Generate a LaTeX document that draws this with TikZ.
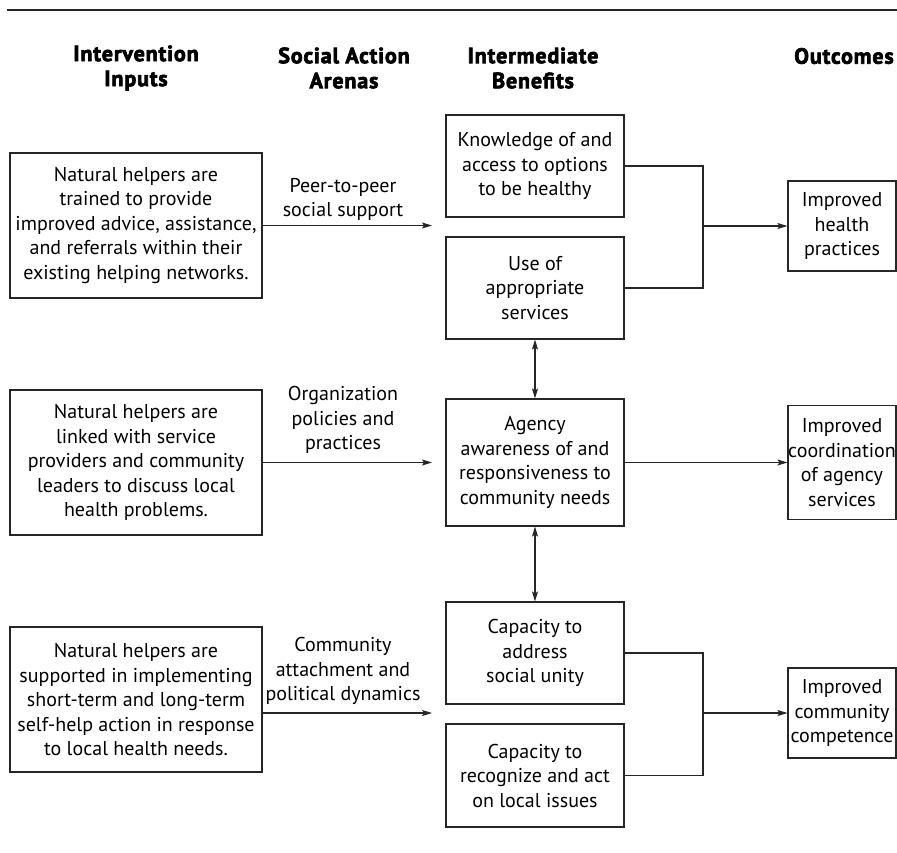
\documentclass[tikz,border=0pt]{standalone}
\usepackage{fontspec}
\setmainfont{PT Sans}
\newfontfamily\headfont{PT Sans}[UprightFont=* Bold,FakeBold=3,LetterSpace=4]
\usetikzlibrary{arrows.meta}
\begin{document}
\begin{tikzpicture}[x=1pt,y=-1pt,
  ink/.style={draw=black!85,line width=1.1pt},
  box/.style={ink,rectangle,inner sep=0pt,align=center,
    font=\fontsize{20}{24.5}\selectfont},
  head/.style={align=center,font=\headfont\fontsize{22}{25}\selectfont},
  lbl/.style={align=center,font=\fontsize{20}{24.5}\selectfont},
  arr/.style={ink,-{Stealth[length=10pt,width=6pt,inset=2pt]}},
  darr/.style={ink,{Stealth[length=10pt,width=6pt,inset=2pt]}-{Stealth[length=10pt,width=6pt,inset=2pt]}}]
\useasboundingbox (0,0) rectangle (897,852);
\clip (0,0) rectangle (897,852);

% top rule
\coordinate (rl) at (7,10);
\coordinate (rr) at (900,10);
\draw[ink] (rl) -- (rr);

% column headings
\node[head] (h1) at (136,68) {Intervention\\Inputs};
\node[head] (h2) at (344,68) {Social Action\\Arenas};
\node[head] (h3) at (533,68) {Intermediate\\Benefits};
\node[head] (h4) at (844,56) {Outcomes};

% intervention inputs
\node[box,minimum width=252pt,minimum height=145pt] (in1) at (136,225.5)
  {Natural helpers are\\trained to provide\\improved advice, assistance,\\and referrals within their\\existing helping networks.};
\node[box,minimum width=252pt,minimum height=145pt] (in2) at (136,462.5)
  {Natural helpers are\\linked with service\\providers and community\\leaders to discuss local\\health problems.};
\node[box,minimum width=252pt,minimum height=145pt] (in3) at (136,699.5)
  {Natural helpers are\\supported in implementing\\short-term and long-term\\self-help action in response\\to local health needs.};

% intermediate benefits
\node[box,minimum width=178pt,minimum height=102pt] (kn) at (535,166)
  {Knowledge of and\\access to options\\to be healthy};
\node[box,minimum width=178pt,minimum height=102pt] (use) at (535,288)
  {Use of\\appropriate\\services};
\node[box,minimum width=178pt,minimum height=127pt] (ag) at (535,462.5)
  {Agency\\awareness of and\\responsiveness to\\community needs};
\node[box,minimum width=178pt,minimum height=102pt] (c1) at (535,653)
  {Capacity to\\address\\social unity};
\node[box,minimum width=178pt,minimum height=103pt] (c2) at (535,775.5)
  {Capacity to\\recognize and act\\on local issues};

% outcomes
\node[box,minimum width=108pt,minimum height=90pt] (o1) at (842,226)
  {Improved\\health\\practices};
\node[box,minimum width=108pt,minimum height=114pt] (o2) at (842,462.5)
  {Improved\\coordination\\of agency\\services};
\node[box,minimum width=108pt,minimum height=90pt] (o3) at (842,713)
  {Improved\\community\\competence};

% social action arenas
\coordinate (a1) at (432,225.5);
\coordinate (a2) at (432,462.5);
\coordinate (a3) at (432,713);
\draw[arr] (in1.east) -- (a1);
\draw[arr] (in2.east) -- (a2);
\draw[arr] (in3.east |- a3) -- (a3);
\node[lbl] (l1) at (343,199.5) {Peer-to-peer\\social support};
\node[lbl] (l2) at (343,420) {Organization\\policies and\\practices};
\node[lbl] (l3) at (343,671) {Community\\attachment and\\political dynamics};

% benefits to outcomes
\coordinate (j1) at (703,226);
\coordinate (j3) at (703,713);
\draw[ink] (kn.east) -| (j1) |- (use.east);
\draw[arr] (j1) -- (o1.west);
\draw[arr] (ag.east) -- (o2.west);
\draw[ink] (c1.east) -| (j3) |- (c2.east);
\draw[arr] (j3) -- (o3.west);

% reciprocal links
\draw[darr] (use.south) -- (ag.north);
\draw[darr] (ag.south) -- (c1.north);
\end{tikzpicture}
\end{document}
